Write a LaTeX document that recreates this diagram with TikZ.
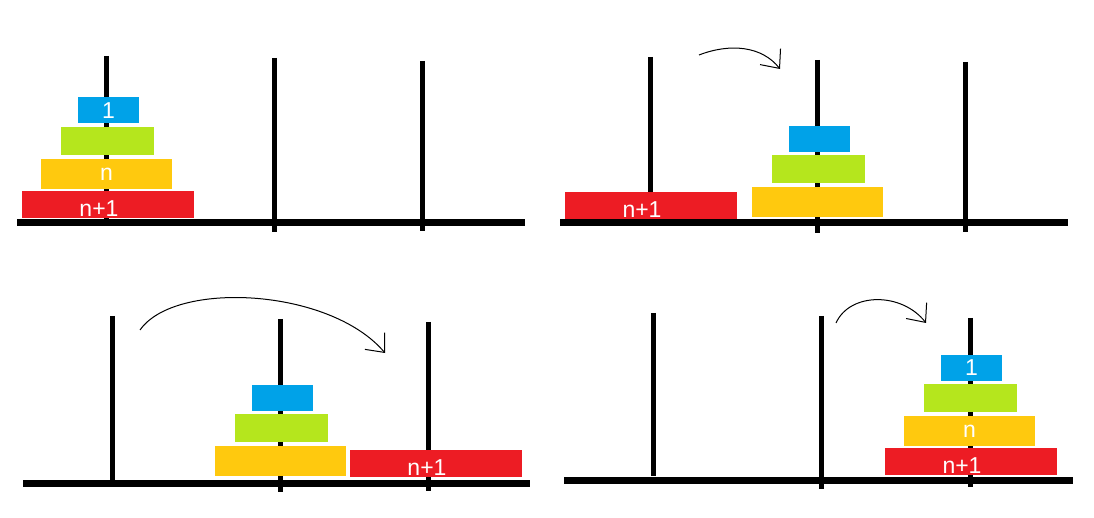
\documentclass[tikz,border=0pt]{standalone}
\usepackage{fontspec}
\newfontfamily\disklabel{Liberation Sans}
\usetikzlibrary{arrows.meta,positioning}

\definecolor{diskblue}{HTML}{00A2E8}
\definecolor{diskgreen}{HTML}{B5E61D}
\definecolor{diskyellow}{HTML}{FFC90E}
\definecolor{diskred}{HTML}{ED1C24}

\tikzset{
  disk/.style={rectangle, inner sep=0pt, text=white,
    font=\disklabel\fontsize{23}{26}\selectfont},
  small disk/.style={disk, fill=diskblue, minimum width=61pt, minimum height=26pt},
  mid disk/.style={disk, fill=diskgreen, minimum width=93pt, minimum height=28pt},
  big disk/.style={disk, fill=diskyellow, minimum width=131pt, minimum height=30pt},
  huge disk/.style={disk, fill=diskred, minimum width=172pt, minimum height=27pt,
    text height=24pt, execute at end node=\hspace*{18pt}},
  peg/.style={line width=5pt},
  ground/.style={line width=7pt},
  move/.style={line width=1pt, -{Straight Barb[length=15pt,width=26pt]}}
}

\begin{document}
\begin{tikzpicture}[x=1pt, y=-1pt]
  \useasboundingbox (0,0) rectangle (1094,518);

  % Start: every disk on the first peg
  \begin{scope}
    \draw[peg] (106,56) -- (106,222);
    \draw[peg] (274,58) -- (274,232);
    \draw[peg] (422,61) -- (422,231);
    \draw[ground] (17,223) -- (525,223);
    \node[small disk] (a1) at (108.5,110.5) {1};
    \node[mid disk]   (a2) at (107.5,141) {};
    \node[big disk]   (a3) at (106.5,174) {n};
    \node[huge disk]  (a4) at (108,205) {n+1};
  \end{scope}

  % Step 1: the top n disks go to the middle peg
  \begin{scope}
    \draw[peg] (650,57) -- (650,193);
    \draw[peg] (817,60) -- (817,233);
    \draw[peg] (965,62) -- (965,232);
    \draw[ground] (560,223) -- (1068,223);
    \node[huge disk]  (b4) at (651,205.5) {n+1};
    \node[big disk]   (b3) at (817.5,202) {};
    \node[mid disk]   (b2) at (818.5,169) {};
    \node[small disk] (b1) at (819.5,139) {};
    \coordinate (b from) at (699,55);
    \coordinate (b to) at (780,69);
    \draw[move] (b from) .. controls (730,43) and (762,46) .. (b to);
  \end{scope}

  % Step 2: the largest disk goes to the last peg
  \begin{scope}
    \draw[peg] (112,316) -- (112,487);
    \draw[peg] (280,319) -- (280,492);
    \draw[peg] (428,322) -- (428,491);
    \draw[ground] (23,483) -- (530,483);
    \node[big disk]   (c3) at (280.5,461) {};
    \node[mid disk]   (c2) at (281.5,428) {};
    \node[small disk] (c1) at (282.5,398) {};
    \node[huge disk]  (c4) at (436,463.5) {n+1};
    \coordinate (c from) at (140,330);
    \coordinate (c to) at (385,353);
    \draw[move] (c from) .. controls (175,280) and (330,288) .. (c to);
  \end{scope}

  % Step 3: the n disks follow onto the last peg
  \begin{scope}
    \draw[peg] (653,313) -- (653,476);
    \draw[peg] (821,316) -- (821,489);
    \draw[peg] (970,318) -- (970,487);
    \draw[ground] (564,480) -- (1073,480);
    \node[huge disk]  (d4) at (971,461.5) {n+1};
    \node[big disk]   (d3) at (969.5,431) {n};
    \node[mid disk]   (d2) at (970.5,398) {};
    \node[small disk] (d1) at (971.5,367.5) {1};
    \coordinate (d from) at (836,323);
    \coordinate (d to) at (926,323);
    \draw[move] (d from) .. controls (850,292) and (902,292) .. (d to);
  \end{scope}
\end{tikzpicture}
\end{document}
